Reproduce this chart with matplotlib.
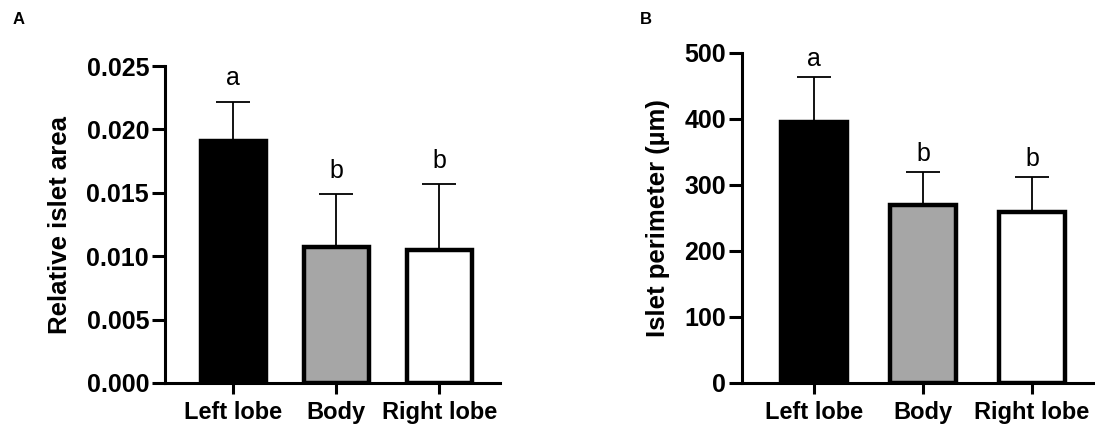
import matplotlib
matplotlib.use("Agg")
import matplotlib.pyplot as plt
import numpy as np

plt.rcParams['font.family'] = ['Liberation Sans', 'DejaVu Sans']

categories = ["Left lobe", "Body", "Right lobe"]
area_mean = [0.0191, 0.0107, 0.0105]
area_err = [0.0031, 0.0042, 0.0052]
perim_mean = [396, 270, 259]
perim_err = [67, 50, 53]
letters = ["a", "b", "b"]
bar_colors = ["#000000", "#a6a6a6", "#ffffff"]

fig = plt.figure(figsize=(10.95, 4.33), dpi=100)
axA = fig.add_axes([165/1095, 50/433, (500-165)/1095, (383-66)/433])
axB = fig.add_axes([742/1095, 50/433, (1093-742)/1095, (383-53)/433])

def draw(ax, means, errs, ylim, yticks, fmt, ylabel, width, xlim, letter_off):
    x = np.arange(len(categories))
    ax.errorbar(x, means, yerr=[np.zeros(len(means)), errs], fmt='none',
                ecolor='black', elinewidth=1.3, capsize=12.5, capthick=1.3, zorder=1)
    ax.bar(x, means, width=width, color=bar_colors, edgecolor='black',
           linewidth=3.2, zorder=2)
    for xi, m, e, l in zip(x, means, errs, letters):
        ax.text(xi, m + e + letter_off, l, ha='center', va='bottom', fontsize=18)
    ax.set_xlim(*xlim)
    ax.set_ylim(*ylim)
    ax.set_yticks(yticks)
    ax.set_yticklabels([fmt.format(v) for v in yticks], fontsize=18, fontweight='bold')
    ax.set_xticks(x)
    ax.set_xticklabels(categories, fontsize=17, fontweight='bold')
    ax.set_ylabel(ylabel, fontsize=18.5, fontweight='bold')
    for s in ['top', 'right']:
        ax.spines[s].set_visible(False)
    for s in ['left', 'bottom']:
        ax.spines[s].set_linewidth(2.2)
        ax.spines[s].set_capstyle('projecting')
    ax.tick_params(axis='y', direction='out', length=9.5, width=2.2, pad=2)
    ax.tick_params(axis='x', direction='out', length=8, width=2.2, pad=5)

draw(axA, area_mean, area_err, (0, 0.025), [0, 0.005, 0.010, 0.015, 0.020, 0.025],
     "{:.3f}", "Relative islet area", 0.63, (-0.66, 2.59), 0.0009)
draw(axB, perim_mean, perim_err, (0, 500), [0, 100, 200, 300, 400, 500],
     "{:.0f}", "Islet perimeter (\u00b5m)", 0.6, (-0.66, 2.56), 9)

axA.yaxis.set_label_coords(-0.278, 0.5)
axB.yaxis.set_label_coords(-0.205, 0.5)

fig.text(13/1095, 1 - 20/433, "A", fontsize=12, fontweight='bold', va='center', ha='left')
fig.text(640/1095, 1 - 19/433, "B", fontsize=12, fontweight='bold', va='center', ha='left')

fig.savefig("out.png", dpi=100)
